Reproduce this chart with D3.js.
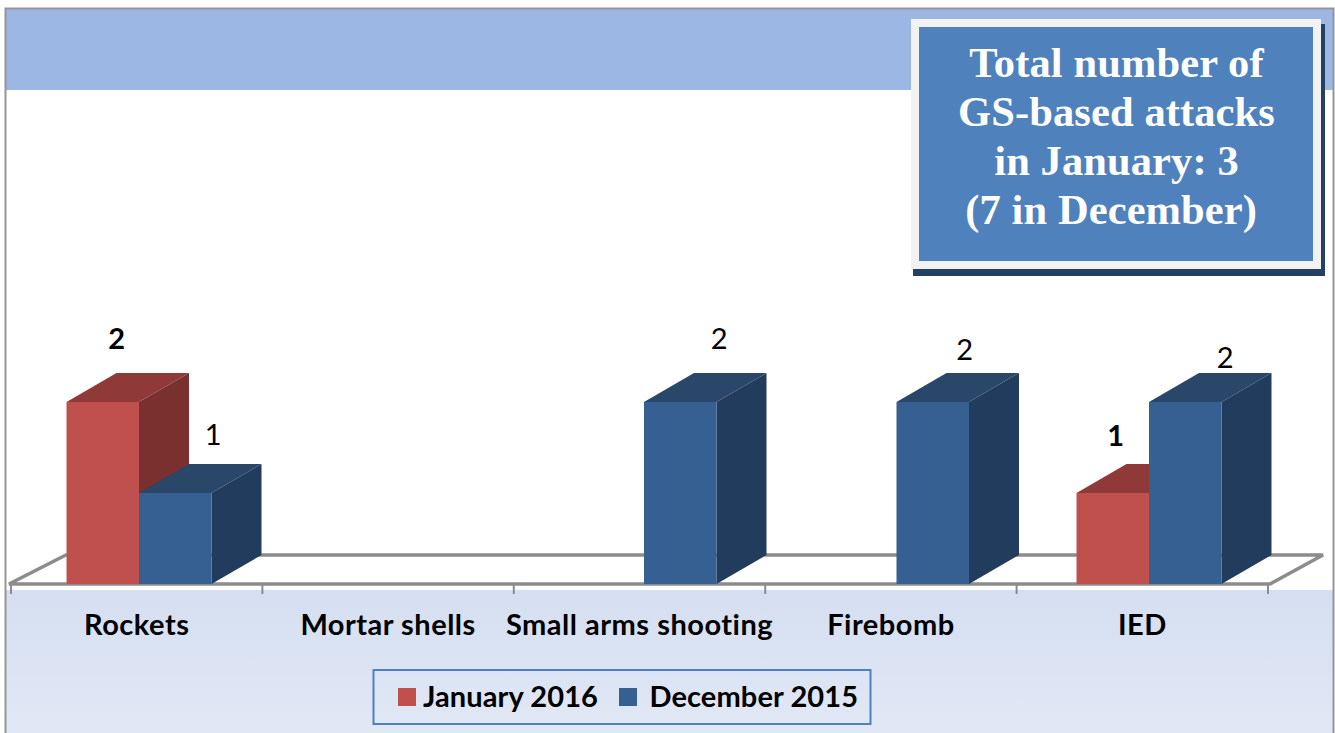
<!DOCTYPE html>
<html lang="en">
<head>
<meta charset="UTF-8" />
<title>GS-based attacks</title>
<script src="https://d3js.org/d3.v7.min.js"></script>
<style>
  html, body { margin: 0; padding: 0; background: #fff; overflow: hidden; }
  svg { display: block; }
  .calibri { font-family: Lato, "Open Sans", sans-serif; font-weight: 700; fill: #000; }
  .axis text { font-family: Lato, "Open Sans", sans-serif; font-weight: 700; font-size: 29px; letter-spacing: 0.5px; fill: #000; }
</style>
</head>
<body>
<svg id="chart" width="1335" height="733"></svg>

<script>
const categories = ['Rockets', 'Mortar shells', 'Small arms shooting', 'Firebomb', 'IED'];
const seriesNames = ['January 2016', 'December 2015'];
const january = [2, 0, 0, 0, 1];
const december = [1, 0, 2, 2, 2];
const titleLines = ['Total number of', 'GS-based attacks', 'in January: 3', '(7 in December)\u00a0'];

const colors = {
  'January 2016': { front: '#c0504d', top: '#8f3a38', side: '#7a302e' },
  'December 2015': { front: '#366092', top: '#2a4669', side: '#213c5d' }
};

const svg = d3.select('#chart');

// background bands
const defs = svg.append('defs');
const grad = defs.append('linearGradient').attr('id', 'bottomBand').attr('x1', 0).attr('x2', 0).attr('y1', 0).attr('y2', 1);
grad.append('stop').attr('offset', '0%').attr('stop-color', '#d5dff1');
grad.append('stop').attr('offset', '100%').attr('stop-color', '#e1e8f5');

svg.append('rect').attr('x', 5).attr('y', 8).attr('width', 1328).attr('height', 725).attr('fill', '#fff');
svg.append('rect').attr('x', 5).attr('y', 8).attr('width', 1328).attr('height', 82).attr('fill', '#9db7e4');
svg.append('rect').attr('x', 5).attr('y', 590).attr('width', 1328).attr('height', 143).attr('fill', 'url(#bottomBand)');
svg.append('path').attr('d', 'M5.5,733V8.5H1333.5V733').attr('fill', 'none').attr('stroke', '#969696').attr('stroke-width', 2);

// axis scale and bar scale differ a little in the original picture
const axisBand = d3.scaleBand().domain(categories).range([11, 1268]);
const barBand = d3.scaleBand().domain(categories).range([12.75, 1275.25]);
const inner = d3.scaleBand().domain(seriesNames).range([-72.5, 72.5]);
const y = d3.scaleLinear().domain([0, 2]).range([584, 402]);
const depthX = 50, depthY = 29;
const floorX = 55;

// floor
const floorY = y(0);
const [ax0, ax1] = axisBand.range();
svg.append('path')
  .attr('d', d3.line()([[ax0 - 2, floorY], [ax1 + 2, floorY], [ax1 + floorX, floorY - depthY], [ax0 + floorX, floorY - depthY]]) + 'Z')
  .attr('fill', '#fff').attr('stroke', '#8c8c8c').attr('stroke-width', 3.5);

// ticks
const tickEdges = d3.range(categories.length + 1).map(i => ax0 + i * axisBand.step());
svg.append('g').selectAll('line').data(tickEdges).join('line')
  .attr('x1', d => d).attr('x2', d => d)
  .attr('y1', floorY).attr('y2', floorY + 10)
  .attr('stroke', '#8c8c8c').attr('stroke-width', 2);

// category labels
const axisG = svg.append('g').attr('class', 'axis').attr('transform', `translate(0,${floorY + 51})`)
  .call(d3.axisBottom(axisBand).tickSize(0).tickPadding(0));
axisG.select('.domain').remove();
axisG.selectAll('text').attr('dy', 0);

// bars
const rows = [];
categories.forEach((c, i) => {
  if (january[i] > 0) rows.push({ cat: c, series: seriesNames[0], value: january[i] });
  if (december[i] > 0) rows.push({ cat: c, series: seriesNames[1], value: december[i] });
});

const bar = svg.append('g').selectAll('g').data(rows).join('g');
const x0 = d => barBand(d.cat) + barBand.bandwidth() / 2 + inner(d.series);
const x1 = d => x0(d) + inner.bandwidth();

bar.append('path').attr('fill', d => colors[d.series].side)
  .attr('d', d => d3.line()([[x1(d), y(d.value)], [x1(d) + depthX, y(d.value) - depthY], [x1(d) + depthX, floorY - depthY], [x1(d), floorY]]) + 'Z');
bar.append('path').attr('fill', d => colors[d.series].top)
  .attr('d', d => d3.line()([[x0(d), y(d.value)], [x0(d) + depthX, y(d.value) - depthY], [x1(d) + depthX, y(d.value) - depthY], [x1(d), y(d.value)]]) + 'Z');
bar.append('rect').attr('fill', d => colors[d.series].front)
  .attr('x', x0).attr('y', d => y(d.value))
  .attr('width', inner.bandwidth()).attr('height', d => floorY - y(d.value));

// value labels, hand placed in the original so nudged per bar
const labelNudge = {
  'Rockets|January 2016': [14, -24], 'Rockets|December 2015': [38, -19],
  'Small arms shooting|December 2015': [39, -24], 'Firebomb|December 2015': [32, -13],
  'IED|January 2016': [3, -18], 'IED|December 2015': [40, -5]
};
svg.append('g').selectAll('text').data(rows).join('text')
  .attr('text-anchor', 'middle')
  .attr('font-family', 'Lato, "Open Sans", sans-serif')
  .attr('font-size', 29)
  .attr('font-weight', d => d.series === seriesNames[0] ? 700 : 400)
  .attr('fill', '#000')
  .attr('x', d => (x0(d) + x1(d)) / 2 + labelNudge[d.cat + '|' + d.series][0])
  .attr('y', d => y(d.value) - depthY + labelNudge[d.cat + '|' + d.series][1])
  .text(d => d.value);

// title box
svg.append('rect').attr('x', 913).attr('y', 24).attr('width', 412).attr('height', 252).attr('fill', '#254061');
svg.append('rect').attr('x', 911).attr('y', 19).attr('width', 410).attr('height', 250).attr('fill', '#f2f2f2');
svg.append('rect').attr('x', 919).attr('y', 27).attr('width', 394).attr('height', 234).attr('fill', '#4f81bd');
svg.append('g').selectAll('text').data(titleLines).join('text')
  .attr('x', 1116.5).attr('y', (d, i) => 77 + i * 49)
  .attr('text-anchor', 'middle')
  .attr('font-family', '"Liberation Serif", serif')
  .attr('font-weight', 700).attr('font-size', 42.5).attr('letter-spacing', 0.1)
  .attr('fill', '#fff')
  .text(d => d);

// legend
svg.append('rect').attr('x', 373.5).attr('y', 670).attr('width', 497).attr('height', 54)
  .attr('fill', 'none').attr('stroke', '#4f81bd').attr('stroke-width', 2);
const legendX = d3.scaleOrdinal().domain(seriesNames).range([398, 619]);
const legend = svg.append('g').selectAll('g').data(seriesNames).join('g')
  .attr('transform', d => `translate(${legendX(d)},688)`);
legend.append('rect').attr('width', 18).attr('height', 18).attr('fill', d => colors[d].front);
legend.append('text').attr('class', 'calibri').attr('x', (d, i) => i ? 30.5 : 25).attr('y', 19)
  .attr('font-size', 29).attr('letter-spacing', 0.1).text(d => d);
</script>
</body>
</html>
